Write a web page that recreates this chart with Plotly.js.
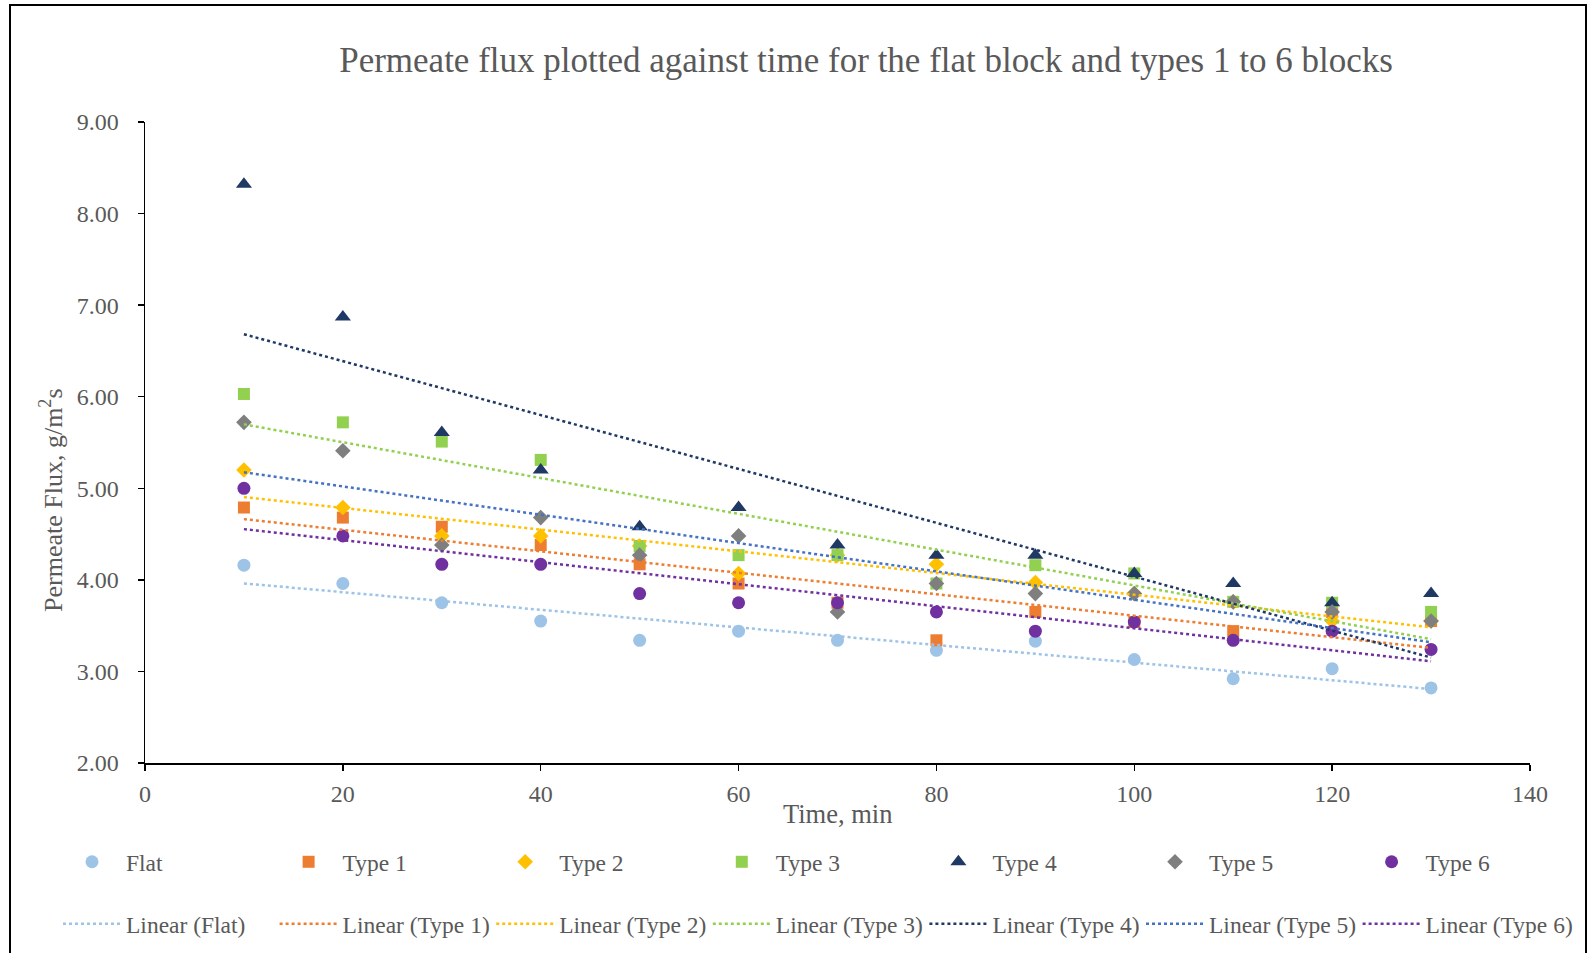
<!DOCTYPE html>
<html>
<head>
<meta charset="utf-8">
<script src="https://cdn.plot.ly/plotly-3.0.1.min.js"></script>
<style>
  html, body { margin: 0; padding: 0; background: #ffffff; overflow: hidden; }
  #wrap { position: relative; width: 1589px; height: 953px; }
  #chart { position: absolute; left: 0; top: 0; width: 1589px; height: 953px; }
  #frame { position: absolute; left: 9px; top: 4px; width: 1574px; height: 1000px;
           border: 2px solid #000000; pointer-events: none; }
</style>
</head>
<body>
<div id="wrap">
  <div id="chart"></div>
  <div id="frame"></div>
</div>
<script>
// Sampling times (min)
const timeMin = [10, 20, 30, 40, 50, 60, 70, 80, 90, 100, 110, 120, 130];

// Permeate flux, g/m2s, per block type
const fluxFlat  = [4.16, 3.96, 3.75, 3.55, 3.34, 3.44, 3.34, 3.23, 3.33, 3.13, 2.92, 3.03, 2.82];
const fluxType1 = [4.79, 4.68, 4.58, 4.38, 4.17, 3.96, 3.75, 3.34, 3.65, 3.54, 3.44, 3.65, 3.55];
const fluxType2 = [5.20, 4.79, 4.48, 4.48, 4.37, 4.07, 4.27, 4.17, 3.97, 3.85, 3.76, 3.55, 3.55];
const fluxType3 = [6.03, 5.72, 5.51, 5.31, 4.37, 4.27, 4.27, 3.96, 4.16, 4.07, 3.76, 3.75, 3.65];
const fluxType4 = [8.32, 6.87, 5.61, 5.20, 4.58, 4.79, 4.38, 4.27, 4.27, 4.07, 3.96, 3.75, 3.85];
const fluxType5 = [5.72, 5.41, 4.38, 4.68, 4.27, 4.48, 3.65, 3.96, 3.85, 3.85, 3.76, 3.65, 3.55];
const fluxType6 = [5.00, 4.48, 4.17, 4.17, 3.85, 3.75, 3.75, 3.65, 3.44, 3.54, 3.34, 3.44, 3.24];

const seriesNames = ['Flat', 'Type 1', 'Type 2', 'Type 3', 'Type 4', 'Type 5', 'Type 6'];
const seriesData  = [fluxFlat, fluxType1, fluxType2, fluxType3, fluxType4, fluxType5, fluxType6];

// Marker look for each series and colour of its trend line
const markerColors = ['#9DC3E6', '#ED7D31', '#FFC000', '#92D050', '#1F3864', '#7F7F7F', '#7030A0'];
const markerShapes = ['circle', 'square', 'diamond', 'square', 'triangle-up', 'diamond', 'circle'];
const markerSizes  = [13, 12, 12, 12, 14, 12, 13];
const trendColors  = ['#9DC3E6', '#ED7D31', '#FFC000', '#92D050', '#1F3864', '#4472C4', '#7030A0'];

const xTicks = [0, 20, 40, 60, 80, 100, 120, 140];
const yTicks = [2, 3, 4, 5, 6, 7, 8, 9];

const textGray = '#595959';
const serif = '"Liberation Serif", "Times New Roman", serif';

// Ordinary least-squares fit y = a + b x
function linearFit(xs, ys) {
  const n = xs.length;
  const mx = xs.reduce((s, v) => s + v, 0) / n;
  const my = ys.reduce((s, v) => s + v, 0) / n;
  let sxy = 0, sxx = 0;
  for (let i = 0; i < n; i++) {
    sxy += (xs[i] - mx) * (ys[i] - my);
    sxx += (xs[i] - mx) * (xs[i] - mx);
  }
  const b = sxy / sxx;
  return { a: my - b * mx, b: b };
}

const traces = [];
seriesNames.forEach((name, i) => {
  traces.push({
    type: 'scatter', mode: 'markers', name: name,
    x: timeMin, y: seriesData[i],
    marker: { color: markerColors[i], symbol: markerShapes[i], size: markerSizes[i], line: { width: 0 } },
    legend: 'legend', hoverinfo: 'x+y+name'
  });
});
seriesNames.forEach((name, i) => {
  const fit = linearFit(timeMin, seriesData[i]);
  const xs = [Math.min(...timeMin), Math.max(...timeMin)];
  traces.push({
    type: 'scatter', mode: 'lines', name: 'Linear (' + name + ')',
    x: xs, y: xs.map(x => fit.a + fit.b * x),
    line: { color: trendColors[i], width: 2.5, dash: 'dot' },
    legend: 'legend2', hoverinfo: 'skip'
  });
});

const W = 1589, H = 953;
const plotL = 145, plotR = 1530, plotT = 122, plotB = 763;
const px2paperX = p => (p - plotL) / (plotR - plotL);
const px2paperY = p => (plotB - p) / (plotB - plotT);

const legendFont = { family: serif, size: 23.5, color: textGray };

const legendBase = {
  orientation: 'h', xref: 'paper', yref: 'paper',
  x: px2paperX(58), xanchor: 'left', yanchor: 'middle',
  itemwidth: 58, entrywidth: 143.6, entrywidthmode: 'pixels',
  font: legendFont, bgcolor: 'rgba(0,0,0,0)', borderwidth: 0,
  itemclick: false, itemdoubleclick: false
};

const layout = {
  width: W, height: H,
  paper_bgcolor: '#ffffff', plot_bgcolor: '#ffffff',
  margin: { l: plotL, r: W - plotR, t: plotT, b: H - plotB, pad: 0, autoexpand: false },
  showlegend: true,
  title: {
    text: 'Permeate flux plotted against time for the flat block and types 1 to 6 blocks',
    font: { family: serif, size: 35, color: textGray },
    xref: 'paper', x: px2paperX(866), xanchor: 'center',
    yref: 'container', y: 1 - 60 / H, yanchor: 'middle'
  },
  xaxis: {
    range: [0, 140], tickvals: xTicks, ticktext: xTicks.map(String),
    showgrid: false, zeroline: false,
    showline: true, linecolor: '#000000', linewidth: 1.5,
    ticks: 'outside', ticklen: 6, tickcolor: '#000000', tickwidth: 1.5,
    tickfont: { family: serif, size: 24, color: textGray },
    ticklabelstandoff: 3
  },
  yaxis: {
    range: [2, 9], tickvals: yTicks, ticktext: yTicks.map(v => v.toFixed(2)),
    showgrid: false, zeroline: false,
    showline: true, linecolor: '#000000', linewidth: 1.5,
    ticks: 'outside', ticklen: 6, tickcolor: '#000000', tickwidth: 1.5,
    tickfont: { family: serif, size: 24, color: textGray },
    ticklabelstandoff: 14
  },
  annotations: [
    {
      text: 'Time, min', showarrow: false,
      xref: 'paper', yref: 'paper', x: px2paperX(837), y: px2paperY(814),
      xanchor: 'center', yanchor: 'middle',
      font: { family: serif, size: 26.5, color: textGray }
    },
    {
      text: 'Permeate Flux, g/m<sup>2</sup>s', showarrow: false, textangle: -90,
      xref: 'paper', yref: 'paper', x: px2paperX(51), y: px2paperY(500),
      xanchor: 'center', yanchor: 'middle',
      font: { family: serif, size: 26, color: textGray }
    }
  ],
  legend: Object.assign({}, legendBase, { y: px2paperY(862) }),
  legend2: Object.assign({}, legendBase, { y: px2paperY(924) })
};

Plotly.newPlot('chart', traces, layout, { displayModeBar: false, staticPlot: true });
</script>
</body>
</html>
